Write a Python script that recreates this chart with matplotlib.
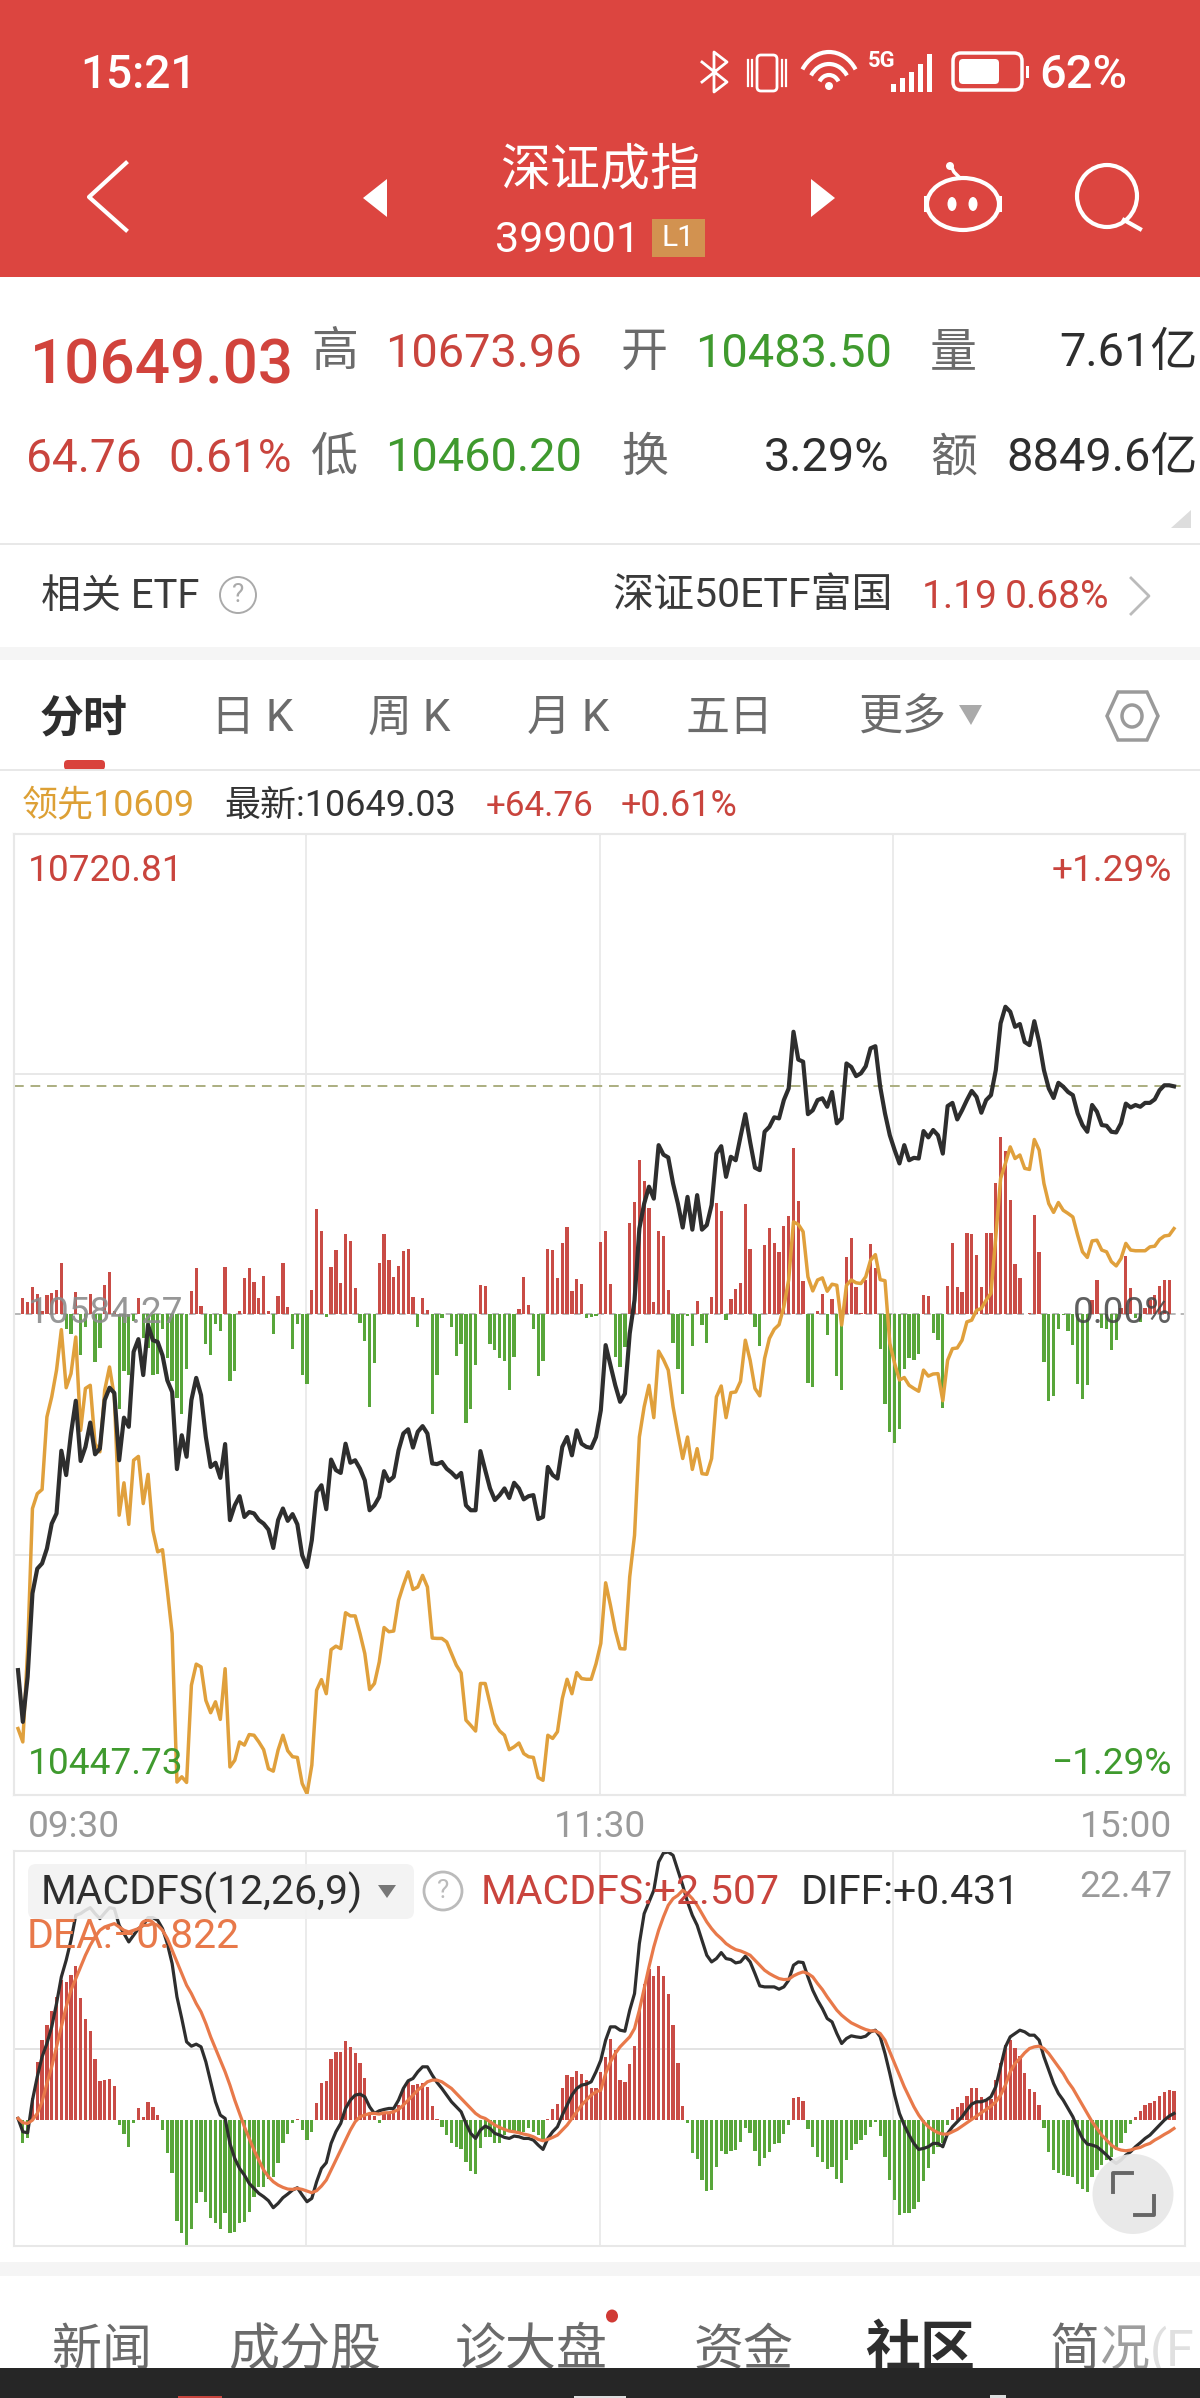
import numpy as np
import matplotlib
matplotlib.use("Agg")
import matplotlib.pyplot as plt
from matplotlib.patches import Rectangle, FancyBboxPatch, Ellipse, Polygon, Arc, Circle

plt.rcParams['font.family'] = ['Roboto', 'Noto Sans CJK SC', 'DejaVu Sans']

# ---------- data ----------
PRICE_TOP, PRICE_MID, PRICE_BOTTOM = 10720.81, 10584.27, 10447.73
LAST_PRICE = 10649.03

price_black = [
10483.2,10468.5,10481.3,10505.0,10512.0,10513.5,10517.7,10524.8,10527.7,10545.5,10538.6,10550.4,10559.7,10542.6,10546.6,10553.5,10544.5,10546.1,10559.9,10563.4,
10561.9,10542.8,10554.9,10552.3,10573.6,10577.2,10567.0,10581.2,10576.9,10576.4,10572.6,10565.5,10562.2,10540.3,10549.9,10543.8,10559.9,10566.2,10561.3,10549.4,
10540.9,10542.1,10537.8,10547.4,10525.8,10530.0,10532.6,10526.7,10528.1,10527.7,10525.8,10524.8,10523.1,10517.9,10525.8,10529.1,10525.6,10527.5,10524.6,10515.8,
10512.5,10520.1,10533.8,10535.7,10528.9,10543.0,10540.0,10539.2,10547.5,10542.1,10542.8,10540.4,10537.1,10528.6,10530.0,10532.4,10539.7,10536.9,10538.1,10545.6,
10550.4,10551.6,10546.4,10550.9,10552.5,10550.4,10541.9,10541.7,10542.3,10540.4,10539.3,10537.9,10539.2,10530.0,10528.6,10528.6,10545.4,10540.0,10534.8,10531.5,
10532.9,10534.8,10532.1,10536.4,10534.8,10531.7,10532.6,10532.9,10526.1,10526.7,10540.9,10538.6,10537.6,10546.6,10549.4,10544.2,10551.3,10547.5,10546.6,10546.3,
10549.4,10557.0,10575.5,10569.8,10564.1,10559.4,10561.7,10578.8,10588.3,10608.6,10615.7,10620.5,10617.1,10632.3,10629.6,10628.8,10621.4,10615.7,10608.9,10617.6,
10608.3,10618.1,10608.3,10609.6,10615.3,10629.9,10632.0,10623.3,10629.0,10628.0,10634.7,10641.1,10633.2,10625.9,10625.2,10636.1,10637.5,10640.2,10639.9,10645.1,
10648.4,10664.5,10656.6,10656.0,10641.1,10642.2,10645.1,10645.6,10643.2,10647.4,10638.5,10639.9,10655.5,10654.5,10651.9,10652.7,10654.7,10659.8,10660.4,10648.9,
10641.3,10635.1,10630.9,10627.1,10632.3,10628.0,10628.7,10628.5,10636.3,10634.5,10636.6,10635.1,10629.9,10643.4,10644.3,10639.6,10642.2,10645.1,10647.7,10646.0,
10641.5,10645.1,10646.5,10653.6,10666.9,10671.6,10670.2,10665.9,10666.7,10661.6,10660.7,10667.5,10661.6,10653.6,10648.4,10645.7,10650.0,10648.9,10647.4,10646.5,
10641.3,10638.0,10636.1,10643.7,10641.8,10638.0,10637.8,10636.1,10635.9,10638.5,10644.1,10643.0,10643.7,10643.2,10644.3,10644.3,10645.3,10647.9,10649.3,10649.3,
10649.0]

price_lead = [
10466.6,10462.8,10488.9,10529.1,10533.3,10534.5,10555.1,10560.8,10568.4,10579.9,10563.4,10567.4,10577.8,10551.3,10563.2,10564.1,10547.5,10545.2,10562.7,10569.3,
10560.8,10527.2,10536.4,10524.6,10542.8,10543.9,10530.5,10538.8,10522.9,10516.8,10517.4,10505.9,10493.6,10451.4,10452.9,10451.3,10478.9,10484.9,10484.1,10474.6,
10471.1,10474.2,10469.2,10483.6,10455.7,10457.6,10462.8,10461.9,10464.9,10464.7,10462.8,10460.6,10455.2,10454.5,10460.5,10464.7,10460.3,10458.6,10458.4,10451.0,
10448.1,10456.2,10477.5,10480.5,10476.5,10489.0,10490.0,10489.3,10499.5,10498.6,10498.6,10493.6,10487.9,10477.7,10479.4,10485.5,10495.3,10494.1,10494.3,10503.0,
10507.3,10511.1,10506.1,10506.8,10510.1,10506.8,10492.3,10492.2,10492.2,10491.2,10487.9,10484.6,10482.4,10469.0,10467.5,10465.9,10479.4,10479.4,10473.7,10468.0,
10465.9,10464.7,10460.6,10461.4,10462.5,10459.5,10458.6,10458.4,10452.7,10451.9,10464.7,10463.8,10465.7,10475.1,10480.6,10476.5,10482.5,10480.8,10480.6,10480.6,
10485.0,10490.8,10508.0,10501.6,10494.5,10489.3,10489.2,10509.7,10521.5,10549.4,10558.0,10564.1,10554.9,10573.8,10571.4,10568.4,10558.0,10550.4,10543.3,10549.4,
10540.2,10546.1,10539.0,10538.8,10543.3,10560.8,10563.9,10554.9,10562.0,10562.2,10565.2,10576.9,10571.2,10563.2,10561.1,10571.7,10577.4,10580.0,10581.3,10586.4,
10594.0,10610.5,10609.8,10607.7,10594.9,10590.9,10594.0,10594.6,10590.8,10592.8,10592.5,10581.2,10592.5,10594.0,10593.2,10593.0,10594.9,10599.6,10601.2,10594.1,
10593.8,10576.0,10570.3,10565.6,10566.3,10564.1,10563.2,10562.4,10568.4,10566.7,10567.3,10567.4,10559.7,10571.2,10574.5,10574.7,10576.9,10582.1,10582.6,10585.4,
10585.9,10588.3,10590.2,10606.3,10622.8,10627.1,10631.8,10628.5,10629.5,10625.7,10625.4,10633.9,10630.9,10621.4,10615.7,10613.2,10616.0,10613.8,10612.9,10611.9,
10606.7,10602.0,10600.4,10605.1,10605.3,10602.5,10602.0,10599.2,10598.0,10600.1,10604.4,10602.5,10602.3,10602.3,10602.3,10603.4,10603.6,10605.5,10606.5,10606.7,
10608.6]

volume_delta = [
0,50,37,83,60,10,58,63,73,153,-43,-58,66,-121,-38,60,-143,-100,88,127,
10,-283,-170,-183,-20,48,-70,-100,-181,-178,-43,-130,-200,-250,-298,-165,71,138,25,-88,
-121,-28,-50,143,-201,-170,10,108,138,98,48,116,10,-60,55,153,21,-105,-30,-183,
-210,73,317,251,-8,143,193,93,240,221,80,-26,-80,-278,-145,155,240,163,111,145,
191,197,51,-38,48,13,-298,-183,-10,2,-38,-125,-90,-325,-283,-153,87,85,-90,-108,
-130,-140,-228,-128,15,113,28,-43,-186,-140,195,193,110,213,261,70,105,91,-10,-8,
-6,216,251,91,-128,-158,-98,273,337,463,401,318,36,251,236,73,-86,-165,-238,-5,
-96,41,-33,-86,51,333,310,-18,46,75,95,331,195,-38,-96,208,258,213,186,265,
295,499,340,100,-206,-218,10,61,-61,46,-186,-226,172,228,83,5,103,211,138,-103,
-268,-353,-385,-345,-163,-130,-138,-118,58,56,-55,-76,-281,85,213,83,68,245,240,178,
83,245,243,395,531,491,343,151,110,0,3,298,186,-143,-261,-245,-43,-2,-51,-93,
-210,-253,-211,43,103,-40,-45,-106,-76,18,175,78,-10,-23,18,43,58,85,103,103,
0]
VOLUME_LIMIT = 1442

# MACD series, read in chart units; MACD_UNIT turns them into index values
MACD_TOP_LABEL = 22.47
MACD_UNIT = 22.47 / 808
MACD_LOW_UNITS = -378

macd_hist = [
0,-70,-55,65,175,240,285,327,370,420,415,435,462,368,303,268,182,117,120,124,
102,-15,-42,-80,-10,35,8,55,40,15,-30,-98,-160,-302,-340,-378,-328,-250,-215,-245,
-295,-310,-327,-280,-338,-337,-310,-305,-277,-230,-200,-200,-177,-170,-128,-68,-42,-10,4,-30,
-60,-35,50,112,118,184,205,205,237,220,202,172,125,20,12,-8,20,25,30,45,
95,115,105,108,112,100,42,4,-22,-45,-68,-80,-87,-127,-152,-162,-83,-52,-52,-68,
-68,-45,-35,-35,-35,-35,-25,-35,-45,-60,4,32,48,95,135,128,148,137,120,97,
95,145,190,245,210,120,113,167,223,330,408,453,433,462,433,380,285,170,42,-10,
-100,-118,-180,-212,-210,-142,-92,-102,-92,-90,-65,-25,-38,-93,-137,-113,-95,-72,-68,-42,
-15,65,70,58,-28,-82,-110,-125,-148,-142,-177,-188,-120,-90,-72,-60,-45,-20,-5,-48,
-112,-180,-240,-285,-280,-280,-267,-245,-182,-143,-102,-80,-68,-15,32,38,52,72,95,95,
70,58,62,120,170,227,240,218,192,140,92,85,45,-25,-95,-150,-160,-165,-168,-170,
-192,-208,-215,-170,-150,-135,-120,-112,-90,-70,-40,-12,10,27,45,50,58,73,85,90,
88]

macd_diff = [
5,-35,-38,60,130,190,230,280,350,430,480,540,615,620,630,638,620,605,622,638,
635,585,560,535,555,575,585,608,608,600,575,530,470,370,305,235,222,228,220,175,
115,55,15,5,-70,-115,-145,-165,-190,-205,-220,-230,-242,-263,-250,-233,-222,-210,-203,-225,
-245,-235,-185,-145,-128,-70,-35,-10,35,60,75,78,70,40,20,28,32,35,35,60,
95,118,125,145,160,160,135,113,95,75,55,40,25,-10,-40,-55,-30,-18,-25,-40,
-45,-52,-55,-48,-50,-55,-55,-60,-75,-88,-55,-35,-20,15,45,75,95,105,108,115,
145,180,240,280,280,270,267,330,380,530,620,655,690,775,802,805,795,750,705,655,
615,585,540,495,475,485,503,485,482,472,475,492,475,440,403,400,400,400,393,400,
420,465,475,473,430,390,360,335,305,295,260,230,245,253,250,248,252,265,270,250,
200,140,75,20,-15,-45,-70,-88,-85,-80,-70,-70,-80,-40,-20,-5,10,30,48,55,
55,60,70,100,160,220,250,260,270,265,255,255,240,190,150,110,80,60,35,10,
-25,-55,-72,-75,-80,-92,-105,-120,-130,-120,-105,-95,-80,-68,-55,-45,-30,-15,0,12,
20]

macd_dea = [
5,-8,-10,0,20,55,110,160,220,280,340,390,425,460,495,525,550,570,580,585,
590,580,570,565,570,575,585,585,590,585,570,545,510,475,440,405,380,350,325,290,
250,215,180,145,105,60,20,-20,-55,-90,-120,-150,-170,-185,-195,-202,-207,-208,-205,-208,
-213,-218,-212,-198,-180,-150,-120,-90,-60,-30,-5,10,15,20,20,18,22,22,25,32,
45,60,75,90,102,115,120,120,115,105,95,80,65,50,35,20,10,5,-5,-15,
-22,-28,-33,-35,-38,-42,-45,-50,-58,-62,-58,-52,-45,-30,-15,5,25,45,60,75,
85,90,140,175,200,220,235,250,275,330,395,460,520,570,610,645,665,675,690,680,
665,645,620,595,575,558,545,530,520,512,508,502,495,480,465,450,440,432,425,422,
423,433,440,445,440,430,410,392,370,350,330,315,303,292,285,278,272,268,268,260,
240,205,170,135,100,70,40,15,-5,-20,-30,-38,-42,-42,-35,-28,-18,-8,2,12,
22,32,42,55,75,105,145,170,185,202,215,220,222,215,200,180,160,140,115,95,
70,45,20,-5,-25,-45,-60,-75,-85,-90,-92,-90,-85,-82,-75,-70,-60,-52,-43,-35,
-25]

time_grid_minutes = [59.8, 120.8, 181.6]
time_labels = ['09:30', '11:30', '15:00']

# ---------- colours ----------
RED = '#C9443D'; HEAD = '#DC4540'; GREEN = '#3F9A2E'; BAR_RED = '#C94C46'; BAR_GREEN = '#58A63A'
GRAY = '#6B6B6B'; DARK = '#2E2E2E'; LINE = '#E8E8E8'; LEAD = '#E0A03C'; DEA = '#E8794A'; LGRAY = '#9A9A9A'

W, H = 1200, 2398
fig = plt.figure(figsize=(W / 100, H / 100), dpi=100, facecolor='white')

def rect(x0, y0, x1, y1):
    return [x0 / W, 1 - y1 / H, (x1 - x0) / W, (y1 - y0) / H]

bg = fig.add_axes([0, 0, 1, 1], zorder=0)
bg.set_xlim(0, W); bg.set_ylim(H, 0); bg.axis('off')
top = fig.add_axes([0, 0, 1, 1], zorder=5)
top.set_xlim(0, W); top.set_ylim(H, 0); top.axis('off'); top.patch.set_alpha(0)

def T(x, y, s, px, c=DARK, ha='left', w='normal', **kw):
    top.text(x, y + 3, s, fontsize=px * 0.72, color=c, ha=ha, va='center', fontweight=w, **kw)

# ---------- header ----------
bg.add_patch(Rectangle((0, 0), W, 277, fc=HEAD, ec='none'))
T(80, 72, '15:21', 46, 'white', w='medium')
T(1039, 72, '62%', 47, 'white', w='medium')
T(600, 167, '深证成指', 50, 'white', ha='center')
T(495, 237, '399001', 43, 'white')
top.add_patch(Rectangle((652, 219), 53, 38, fc='#D29250', ec='none'))
T(678.5, 235, 'L1', 30, 'white', ha='center')
top.plot([126, 89, 126], [163, 197, 230], color='white', lw=3)
top.add_patch(Polygon([[363, 198], [387, 179], [387, 217]], fc='white', ec='none'))
top.add_patch(Polygon([[835, 198], [811, 179], [811, 217]], fc='white', ec='none'))
# robot
top.add_patch(Ellipse((963, 204), 72, 52, fc='none', ec='white', lw=3))
top.add_patch(Rectangle((924, 196), 5, 16, fc='white', ec='none'))
top.add_patch(Rectangle((997, 196), 5, 16, fc='white', ec='none'))
top.add_patch(Circle((950, 166), 4, fc='white', ec='none'))
top.plot([951, 954, 960], [166, 172, 178], color='white', lw=2.5)
top.add_patch(Ellipse((952, 204), 9, 14, fc='white', ec='none'))
top.add_patch(Ellipse((973, 204), 9, 14, fc='white', ec='none'))
# search
top.add_patch(Ellipse((1107, 196), 60, 62, fc='none', ec='white', lw=3))
top.plot([1124, 1140], [220, 229], color='white', lw=3)
# status icons
top.plot([702, 727, 714, 714, 727, 702], [62, 82, 92, 52, 62, 82], color='white', lw=2)
top.add_patch(FancyBboxPatch((757, 55), 20, 36, boxstyle='round,pad=0,rounding_size=4', fc='none', ec='white', lw=2))
for xv in (748, 752, 782, 786):
    top.plot([xv, xv], [60, 86], color='white', lw=1.6)
for rw, rh in ((62, 72), (42, 48), (22, 26)):
    top.add_patch(Arc((829, 88), rw, rh, theta1=215, theta2=325, color='white', lw=3))
top.add_patch(Circle((829, 86), 4, fc='white', ec='none'))
T(868, 58, '5G', 22, 'white', w='bold')
for i, hb in enumerate((8, 14, 20, 28, 38)):
    top.add_patch(Rectangle((891 + i * 9, 92 - hb), 5, hb, fc='white', ec='none'))
top.add_patch(FancyBboxPatch((953, 53), 69, 37, boxstyle='round,pad=0,rounding_size=8', fc='none', ec='white', lw=2.5))
top.add_patch(FancyBboxPatch((959, 59), 40, 25, boxstyle='round,pad=0,rounding_size=4', fc='white', ec='none'))
top.add_patch(Rectangle((1026, 66), 3, 12, fc='white', ec='none'))

# ---------- quote panel ----------
T(30, 363, '10649.03', 62, '#D1433C', w='medium')
T(26, 456, '64.76', 46, RED)
T(168, 456, '0.61%', 46, RED)
for x, s, y in ((311, '高', 350), (621, '开', 350), (930, '量', 350), (311, '低', 455), (621, '换', 455), (930, '额', 455)):
    T(x, y, s, 47, GRAY)
T(385, 351, '10673.96', 47, RED)
T(695, 351, '10483.50', 47, GREEN)
T(385, 455, '10460.20', 47, GREEN)
T(1198, 350, '7.61亿', 47, DARK, ha='right')
T(890, 455, '3.29%', 47, DARK, ha='right')
T(1198, 455, '8849.6亿', 47, DARK, ha='right')
top.add_patch(Polygon([[1191, 510], [1191, 528], [1171, 528]], fc='#DDDDDD', ec='none'))
bg.plot([0, W], [544, 544], color=LINE, lw=1.4)
T(41, 593, '相关 ETF', 40, '#3A3A3A')
top.add_patch(Ellipse((238, 595), 36, 36, fc='none', ec='#AAAAAA', lw=1.4))
T(238, 592, '?', 26, '#AAAAAA', ha='center')
T(612, 593, '深证50ETF富国', 41, '#3A3A3A')
T(922, 594, '1.19', 39, RED)
T(1005, 594, '0.68%', 39, RED)
top.plot([1131, 1149, 1131], [578, 596, 614], color='#BBBBBB', lw=2)
bg.add_patch(Rectangle((0, 647), W, 13, fc='#F5F5F5', ec='none'))

# ---------- tabs ----------
T(40, 716, '分时', 44, DARK, w='bold')
for x, s in ((211, '日 K'), (368, '周 K'), (527, '月 K'), (686, '五日'), (859, '更多')):
    T(x, 716, s, 44, GRAY)
top.add_patch(Polygon([[959, 705], [982, 705], [971, 725]], fc='#AAAAAA', ec='none'))
top.add_patch(Polygon([[1118, 692], [1147, 692], [1158, 716], [1147, 740], [1118, 740], [1107, 716]], fc='none', ec='#9A9A9A', lw=2.5))
top.add_patch(Ellipse((1132, 716), 20, 22, fc='none', ec='#9A9A9A', lw=2.5))
bg.add_patch(FancyBboxPatch((64, 760), 41, 10, boxstyle='round,pad=0,rounding_size=4', fc='#D9423C', ec='none'))
bg.plot([0, W], [770, 770], color=LINE, lw=1.4)
T(22, 803, '领先10609', 36, '#DDA035')
T(224, 803, '最新:10649.03', 36, '#333333')
T(486, 803, '+64.76', 35, RED)
T(621, 803, '+0.61%', 36, RED)

# ---------- price chart ----------
FX0, FX1 = 14, 1185
MIN_PER_PX = 240 / (1174 - 18)
xlim = (-(18 - FX0) * MIN_PER_PX, 240 + (FX1 - 1174) * MIN_PER_PX)

ax = fig.add_axes(rect(FX0, 833.5, FX1, 1795), zorder=2)
ax.patch.set_alpha(0)
vol = ax.twinx()
vol.set_zorder(1); ax.set_zorder(2)
vols = np.array(volume_delta, dtype=float)
vol.bar(np.arange(len(vols)), vols, width=0.68, color=[BAR_RED if v >= 0 else BAR_GREEN for v in vols], linewidth=0)
vol.set_ylim(-VOLUME_LIMIT, VOLUME_LIMIT)
vol.axhline(0, color='#AAAAAA', lw=1.2, ls=(0, (4, 3)), zorder=0)

ax.set_xlim(*xlim); ax.set_ylim(PRICE_BOTTOM, PRICE_TOP)
vol.set_xlim(*xlim)
for m in time_grid_minutes:
    vol.axvline(m, color='#E6E6E6', lw=1.1, zorder=0)
for frac in (0.5, -0.5):
    vol.axhline(VOLUME_LIMIT * frac, color='#E8E8E8', lw=1.4, zorder=0)
ax.axhline(LAST_PRICE, color='#ABAE80', lw=1.4, ls=(0, (5, 3.5)))
ax.plot(np.arange(len(price_lead)), price_lead, color=LEAD, lw=2.5, solid_joinstyle='round')
ax.plot(np.arange(len(price_black)), price_black, color=DARK, lw=3.0, solid_joinstyle='round')
for a in (ax, vol):
    a.set_xticks([]); a.set_yticks([])
    for s in a.spines.values():
        s.set_color(LINE); s.set_linewidth(1.5)

T(28, 868, '10720.81', 37, RED)
T(1172, 868, '+1.29%', 37, RED, ha='right')
T(28, 1310, '10584.27', 37, '#8C8C8C', alpha=0.9)
T(1172, 1310, '0.00%', 37, '#444444', ha='right', alpha=0.85)
T(28, 1761, '10447.73', 37, GREEN)
T(1172, 1761, '−1.29%', 37, GREEN, ha='right')
T(28, 1824, time_labels[0], 37, LGRAY)
T(600, 1824, time_labels[1], 37, LGRAY, ha='center')
T(1172, 1824, time_labels[2], 37, LGRAY, ha='right')

# ---------- MACD chart ----------
mx = fig.add_axes(rect(FX0, 1851, FX1, 2246), zorder=2)
mx.patch.set_alpha(0)
hist = np.array(macd_hist) * MACD_UNIT
mx.bar(np.arange(len(hist)), hist, width=0.68, color=[BAR_RED if v >= 0 else BAR_GREEN for v in hist], linewidth=0, zorder=1)
mx.plot(np.arange(len(macd_diff)), np.array(macd_diff) * MACD_UNIT, color=DARK, lw=2.3, zorder=2)
mx.plot(np.arange(len(macd_dea)), np.array(macd_dea) * MACD_UNIT, color=DEA, lw=2.3, zorder=3)
mx.set_xlim(*xlim); mx.set_ylim(MACD_LOW_UNITS * MACD_UNIT, MACD_TOP_LABEL)
for m in time_grid_minutes:
    mx.axvline(m, color='#E6E6E6', lw=1.1, zorder=0)
mx.axhline(MACD_TOP_LABEL / 3.76, color='#E0E0E0', lw=1.3, zorder=0)
mx.set_xticks([]); mx.set_yticks([])
for s in mx.spines.values():
    s.set_color(LINE); s.set_linewidth(1.5)

top.add_patch(FancyBboxPatch((28, 1864), 386, 55, boxstyle='round,pad=0,rounding_size=8', fc='#F2F2F2', ec='none', alpha=0.88))
T(41, 1890, 'MACDFS(12,26,9)', 41, DARK)
top.add_patch(Polygon([[378, 1885], [396, 1885], [387, 1898]], fc='#777777', ec='none'))
top.add_patch(Ellipse((443, 1891), 38, 38, fc='none', ec='#BBBBBB', lw=2))
T(443, 1888, '?', 26, '#BBBBBB', ha='center')
T(481, 1890, 'MACDFS:+2.507', 41, RED)
T(801, 1890, 'DIFF:+0.431', 41, DARK)
T(1172, 1884, '22.47', 37, LGRAY, ha='right')
T(27, 1934, 'DEA:−0.822', 41, DEA)
top.add_patch(Ellipse((1133, 2194), 81, 80, fc='#E8E8E8', ec='none', alpha=0.93))
top.plot([1113, 1113, 1132], [2192, 2173, 2173], color='#666666', lw=2.8)
top.plot([1135, 1154, 1154], [2215, 2215, 2196], color='#666666', lw=2.8)

# ---------- bottom tabs ----------
bg.add_patch(Rectangle((0, 2262), W, 14, fc='#F5F5F5', ec='none'))
for x, s, sz in ((52, '新闻', 50), (228, '成分股', 51), (455, '诊大盘', 51), (694, '资金', 50)):
    T(x, 2348, s, sz, GRAY)
T(865, 2348, '社区', 55, DARK, w='bold')
T(1050, 2348, '简', 50, GRAY)
T(1100, 2348, '况', 50, '#9E9E9E')
T(1150, 2348, '(F', 50, '#E0E0E0')
top.add_patch(Ellipse((612, 2316), 12, 13, fc='#D03A35', ec='none'))
top.add_patch(Rectangle((0, 2368), W, 30, fc='#262626', ec='none', zorder=6))
top.add_patch(Rectangle((178, 2396), 44, 2, fc='#C9443D', ec='none', zorder=7))
top.add_patch(Rectangle((574, 2396), 52, 2, fc='#DDDDDD', ec='none', zorder=7))
top.add_patch(Rectangle((990, 2395), 16, 3, fc='#DDDDDD', ec='none', zorder=7))

fig.savefig('out.png', dpi=100, facecolor='white')
